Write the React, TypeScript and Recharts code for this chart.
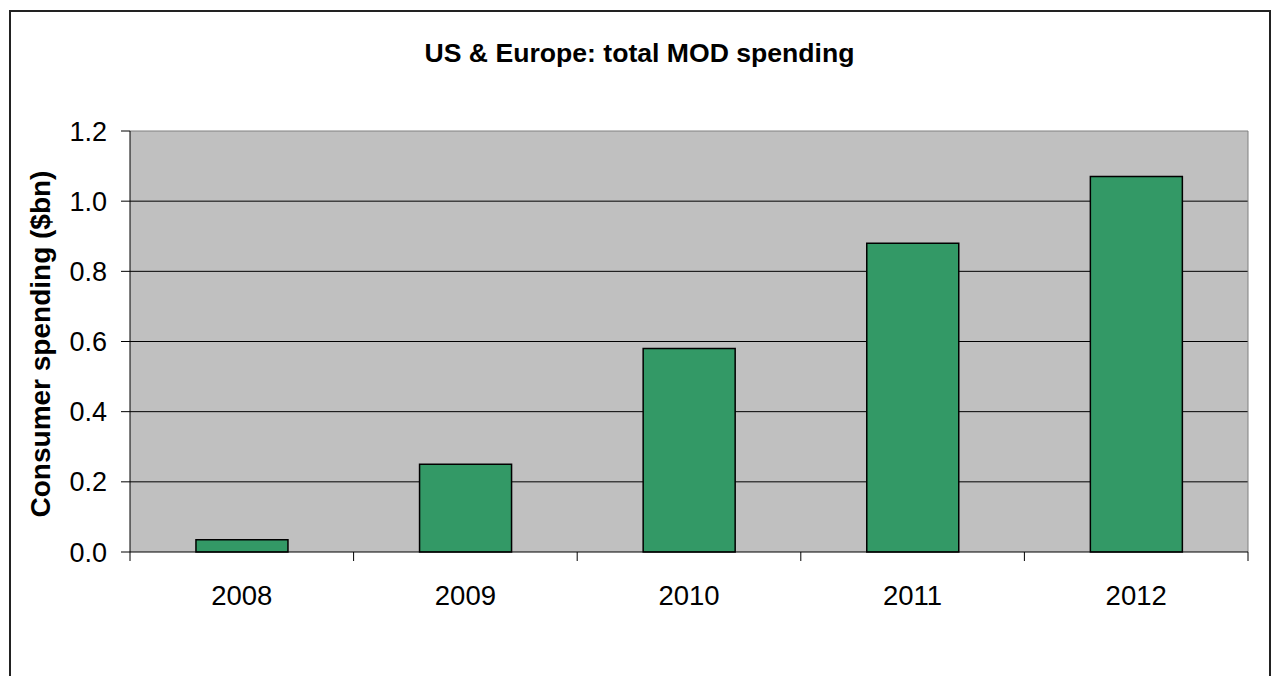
import React from 'react';
import { BarChart, Bar, XAxis, YAxis, CartesianGrid, Label } from 'recharts';

const years = ['2008', '2009', '2010', '2011', '2012'];
const spending = [0.035, 0.25, 0.58, 0.88, 1.07];
const yTicks = [0, 0.2, 0.4, 0.6, 0.8, 1.0, 1.2];

const W = 1279;
const H = 676;
const PLOT_LEFT = 130;
const PLOT_TOP = 131;
const PLOT_RIGHT = 1248;
const PLOT_BOTTOM = 552;
const FONT = '"Liberation Sans", Arial, Helvetica, sans-serif';

const chartData = years.map((year, i) => ({ year, value: spending[i] }));

const XTick = (props: any) => {
  const { x, payload, index } = props;
  const half = payload && payload.offset ? payload.offset : (PLOT_RIGHT - PLOT_LEFT) / years.length / 2;
  const left = x - half;
  const right = x + half;
  return (
    <g>
      <line x1={left} x2={left} y1={PLOT_BOTTOM} y2={PLOT_BOTTOM + 9} stroke="#000" strokeWidth={1} />
      {index === years.length - 1 && (
        <line x1={right} x2={right} y1={PLOT_BOTTOM} y2={PLOT_BOTTOM + 9} stroke="#000" strokeWidth={1} />
      )}
      <text
        x={x}
        y={PLOT_BOTTOM + 43}
        textAnchor="middle"
        dominantBaseline="central"
        fontFamily={FONT}
        fontSize={27.5}
        fill="#000"
      >
        {payload.value}
      </text>
    </g>
  );
};

const YLabel = () => (
  <text
    x={40}
    y={344}
    transform="rotate(-90, 40, 344)"
    textAnchor="middle"
    dominantBaseline="central"
    fontFamily={FONT}
    fontSize={28}
    fontWeight="bold"
    fill="#000"
  >
    Consumer spending ($bn)
  </text>
);

export default function App() {
  return (
    <div style={{ position: 'absolute', left: 0, top: 0, width: W, height: H, overflow: 'hidden', background: '#fff' }}>
      <div
        style={{
          position: 'absolute',
          left: 9,
          top: 10,
          width: 1262,
          height: 720,
          border: '2px solid #222',
          boxSizing: 'border-box',
        }}
      />
      <div
        style={{
          position: 'absolute',
          left: 0,
          top: 40,
          width: W,
          textAlign: 'center',
          fontFamily: FONT,
          fontSize: 26.6,
          lineHeight: '26px',
          fontWeight: 'bold',
          color: '#000',
        }}
      >
        US &amp; Europe: total MOD spending
      </div>
      <div style={{ position: 'absolute', left: 0, top: 0 }}>
        <BarChart
          width={W}
          height={H}
          data={chartData}
          margin={{ top: PLOT_TOP, right: W - PLOT_RIGHT, bottom: H - PLOT_BOTTOM - 60, left: 0 }}
          barCategoryGap="29.5%"
        >
          <CartesianGrid
            vertical={false}
            stroke="#000"
            fill="#c0c0c0"
            fillOpacity={1}
            horizontalCoordinatesGenerator={({ offset }: any) =>
              [0.2, 0.4, 0.6, 0.8, 1.0].map((v) => offset.top + offset.height * (1 - v / 1.2))
            }
          />
          <CartesianGrid
            stroke="#808080"
            horizontalCoordinatesGenerator={({ offset }: any) => [offset.top]}
            verticalCoordinatesGenerator={({ offset }: any) => [offset.left + offset.width]}
          />
          <XAxis
            dataKey="year"
            type="category"
            height={60}
            tickLine={false}
            axisLine={{ stroke: '#000', strokeWidth: 1 }}
            tick={<XTick />}
            interval={0}
          />
          <YAxis
            width={PLOT_LEFT}
            domain={[0, 1.2]}
            ticks={yTicks}
            interval={0}
            tickFormatter={(v: number) => v.toFixed(1)}
            tick={{ fill: '#000', fontSize: 27, fontFamily: FONT }}
            tickSize={9}
            tickMargin={14}
            tickLine={{ stroke: '#000' }}
            axisLine={{ stroke: '#000' }}
          >
            <Label content={<YLabel />} />
          </YAxis>
          <Bar dataKey="value" fill="#339966" stroke="#000" strokeWidth={1.5} isAnimationActive={false} />
        </BarChart>
      </div>
    </div>
  );
}
